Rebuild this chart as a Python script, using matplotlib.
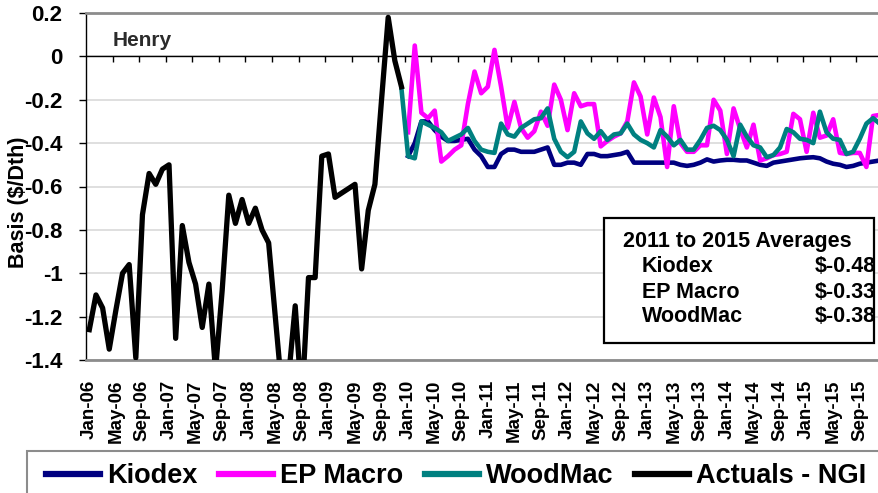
import numpy as np
import pandas as pd
import matplotlib
matplotlib.use("Agg")
import matplotlib.pyplot as plt
from matplotlib.lines import Line2D
from matplotlib.patches import Rectangle

# monthly categories Jan-06 .. Dec-15
months = pd.date_range("2006-01-01", "2015-12-01", freq="MS")

# Actuals - NGI, Jan-06 .. Dec-09
actuals = [-1.26, -1.10, -1.16, -1.35, -1.17, -1.00, -0.96, -1.39, -0.73, -0.54, -0.59, -0.52,
           -0.50, -1.30, -0.78, -0.95, -1.05, -1.25, -1.05, -1.45, -1.08, -0.64, -0.77, -0.66,
           -0.77, -0.70, -0.80, -0.86, -1.20, -1.54, -1.48, -1.15, -1.60, -1.02, -1.02, -0.46,
           -0.45, -0.65, -0.63, -0.61, -0.59, -0.98, -0.71, -0.59, -0.20, 0.18, -0.02, -0.14]

# Kiodex, Jan-10 .. Dec-15
kiodex = [-0.46, -0.40, -0.30, -0.30, -0.34, -0.37, -0.39, -0.39, -0.385, -0.38, -0.43, -0.46,
          -0.51, -0.51, -0.45, -0.43, -0.43, -0.44, -0.44, -0.44, -0.43, -0.42, -0.50, -0.50,
          -0.49, -0.49, -0.50, -0.45, -0.45, -0.46, -0.46, -0.455, -0.45, -0.44, -0.49, -0.49,
          -0.49, -0.49, -0.49, -0.49, -0.49, -0.50, -0.505, -0.50, -0.49, -0.475, -0.485, -0.48,
          -0.477, -0.477, -0.48, -0.48, -0.49, -0.50, -0.505, -0.49, -0.485, -0.48, -0.475, -0.47,
          -0.467, -0.465, -0.47, -0.485, -0.495, -0.50, -0.51, -0.505, -0.495, -0.49, -0.485, -0.48]

# EP Macro, Jan-10 .. Dec-15
ep_macro = [-0.35, 0.05, -0.26, -0.285, -0.25, -0.485, -0.46, -0.43, -0.41, -0.22, -0.07, -0.17,
            -0.14, 0.03, -0.14, -0.33, -0.21, -0.33, -0.375, -0.345, -0.255, -0.32, -0.13, -0.20,
            -0.34, -0.17, -0.23, -0.22, -0.22, -0.415, -0.39, -0.37, -0.355, -0.30, -0.12, -0.185,
            -0.36, -0.19, -0.28, -0.51, -0.23, -0.40, -0.44, -0.44, -0.41, -0.41, -0.20, -0.25,
            -0.45, -0.24, -0.335, -0.42, -0.315, -0.48, -0.47, -0.455, -0.45, -0.44, -0.265, -0.29,
            -0.44, -0.26, -0.375, -0.365, -0.29, -0.445, -0.45, -0.445, -0.445, -0.51, -0.275, -0.27]

# WoodMac, Dec-09 .. Dec-15
woodmac = [-0.15,
           -0.46, -0.47, -0.30, -0.315, -0.33, -0.35, -0.39, -0.375, -0.36, -0.33, -0.39, -0.43,
           -0.44, -0.445, -0.31, -0.36, -0.37, -0.33, -0.31, -0.29, -0.285, -0.24, -0.38, -0.44,
           -0.465, -0.44, -0.30, -0.355, -0.38, -0.345, -0.385, -0.36, -0.355, -0.31, -0.36, -0.385,
           -0.40, -0.42, -0.34, -0.37, -0.41, -0.385, -0.43, -0.43, -0.385, -0.33, -0.32, -0.34,
           -0.385, -0.46, -0.315, -0.37, -0.41, -0.42, -0.465, -0.455, -0.42, -0.335, -0.35, -0.38,
           -0.385, -0.40, -0.255, -0.35, -0.38, -0.385, -0.45, -0.44, -0.38, -0.31, -0.285, -0.31]

avg_names = ["Kiodex", "EP Macro", "WoodMac"]
avg_values = [-0.48, -0.33, -0.38]

series_names = ["Kiodex", "EP Macro", "WoodMac", "Actuals - NGI"]
series_colors = ["#000080", "#ff00ff", "#008080", "#000000"]

W, H = 879, 493


def fx(px):
    return px / W


def fy(py):
    return 1 - py / H


plt.rcParams["font.family"] = ["Liberation Sans", "DejaVu Sans"]

x = np.arange(len(months))
n_act = len(actuals)
x_act = x[:n_act]
x_wm = x[n_act - 1:]
x_fc = x[n_act:]

fig = plt.figure(figsize=(W / 100, H / 100), dpi=100)
ax = fig.add_axes([fx(86), fy(360), 797 / W, 347 / H])

ax.plot(x_fc, kiodex, color=series_colors[0], lw=3.3, zorder=3)
ax.plot(x_fc, ep_macro, color=series_colors[1], lw=3.3, zorder=4)
ax.plot(x_wm, woodmac, color=series_colors[2], lw=3.3, zorder=5)
ax.plot(x_act, actuals, color=series_colors[3], lw=3.8, zorder=6)

ax.set_xlim(-0.5, len(months) - 0.5)
ax.set_ylim(-1.4, 0.2)

yt = np.round(np.arange(-1.4, 0.21, 0.2), 1)
ax.set_yticks(yt)
ax.set_yticklabels([f"{v:g}" if v != 0 else "0" for v in yt])
ax.yaxis.grid(True, color="#d9d9d9", lw=1.2, zorder=0)
ax.set_axisbelow(True)

ax.set_xticks(x[::4])
ax.set_xticklabels(months[::4].strftime("%b-%y"), rotation=90)
ax.tick_params(axis="x", length=0, pad=14, labelsize=13.5)
ax.tick_params(axis="y", length=5, width=1, direction="out", pad=12, labelsize=16)
for lab in ax.get_xticklabels() + ax.get_yticklabels():
    lab.set_fontweight("bold")

# category axis crossing at zero with tick marks between groups of 4
ax.axhline(0, color="black", lw=1, zorder=2)
bounds = x[::4][1:] - 0.5
ax.plot(bounds, np.zeros(len(bounds)), ls="none", marker=3, ms=4.5, mew=1,
        color="black", zorder=2, clip_on=False)

for s in ["top", "bottom"]:
    ax.spines[s].set_color("#8c8c8c")
    ax.spines[s].set_linewidth(2)
ax.spines["left"].set_color("black")
ax.spines["left"].set_linewidth(1)
ax.spines["right"].set_visible(False)

fig.text(fx(19), fy(202), "Basis ($/Dth)", rotation=90, ha="center", va="center",
         fontsize=15.5, fontweight="bold")
ax.text((113 - 86) / 797, (360 - 41) / 347, "Henry", transform=ax.transAxes,
        ha="left", va="center", fontsize=15, fontweight="bold", color="#2b2b2b")

# averages box
fig.add_artist(Rectangle((fx(604), fy(343)), 270 / W, 125 / H, transform=fig.transFigure,
                         facecolor="white", edgecolor="none", zorder=7))
fig.add_artist(Rectangle((fx(604), fy(343)), 270 / W, 125 / H, transform=fig.transFigure,
                         facecolor="none", edgecolor="black", lw=1.6, zorder=9))
fig.text(fx(623), fy(242), "2011 to 2015 Averages", ha="left", va="center",
         fontsize=15.5, fontweight="bold", zorder=8)
for k, (name, val) in enumerate(zip(avg_names, avg_values)):
    yy = fy(267 + 25 * k)
    fig.text(fx(642), yy, name, ha="left", va="center", fontsize=15.5, fontweight="bold", zorder=8)
    fig.text(fx(876), yy, f"\\$-{abs(val):.2f}", ha="right", va="center", fontsize=15.5,
             fontweight="bold", zorder=8)

# legend: frame drawn separately so it can run off the right and bottom edges
fig.add_artist(Rectangle((fx(27), fy(500)), 870 / W, 49 / H, transform=fig.transFigure,
                         facecolor="white", edgecolor="#8c8c8c", lw=1.5, zorder=1))
handles = [Line2D([], [], color=c, lw=4.5) for c in series_colors]
fig.legend(handles, series_names, loc="center left", bbox_to_anchor=(fx(46), fy(476)),
           ncol=4, frameon=False, borderaxespad=0, borderpad=0,
           handlelength=2.0, handletextpad=0.25, columnspacing=0.8,
           prop={"family": "Liberation Sans", "weight": "bold", "size": 19.5})

fig.savefig("out.png", dpi=100)
